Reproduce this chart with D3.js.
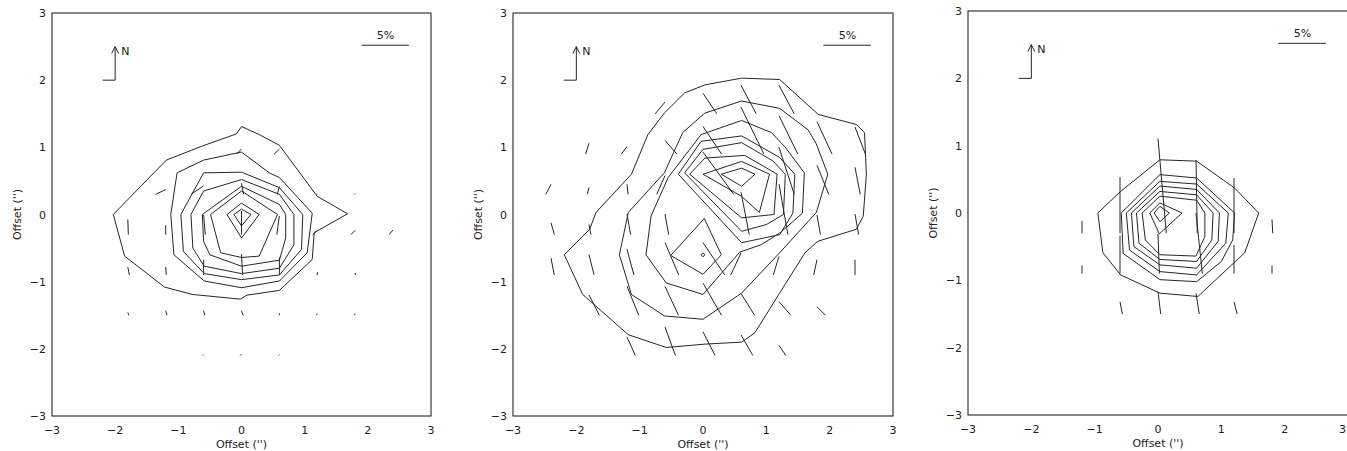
<!DOCTYPE html>
<html lang="en">
<head>
<meta charset="UTF-8">
<title>Polarization maps</title>
<style>
  body { margin: 0; background: #fff; }
  svg { display: block; }
  text { font-family: "DejaVu Sans", sans-serif; font-size: 11px; fill: #222; }
</style>
</head>
<body>
<svg id="chart" width="1347" height="451"></svg>
<script src="https://d3js.org/d3.v7.min.js"></script>
<script>
    /* global d3 */

    const xTicks = [-3, -2, -1, 0, 1, 2, 3];
    const yTicks = [-3, -2, -1, 0, 1, 2, 3];
    const axisTitle = "Offset ('')";
    const barLabel = "5%";
    const barPercent = 5;

    // contours, [x, y] in arcsec, each ring closed
    const contoursA = [
        [[0,1.31],[-0.08,1.2],[-0.62,1.02],[-1.19,0.81],[-2.03,0],[-1.85,-0.62],[-1.22,-1.08],[-0.78,-1.19],[-0.02,-1.26],[0.09,-1.2],[0.6,-1.13],[1.12,-0.67],[1.15,-0.27],[1.68,0.01],[1.2,0.27],[0.6,1.03],[0.28,1.19]],
        [[0,0.93],[-0.6,0.81],[-1.02,0.62],[-1.12,0],[-1.07,-0.6],[-0.59,-0.99],[0,-1.09],[0.6,-0.99],[1.04,-0.57],[1.12,0.02],[0.6,0.55],[0.44,0.62]],
        [[0,0.63],[-0.6,0.62],[-0.96,0],[-0.92,-0.55],[-0.59,-0.88],[0,-0.97],[0.6,-0.9],[0.95,-0.52],[0.97,0],[0.6,0.4]],
        [[0,0.52],[-0.6,0.35],[-0.8,0],[-0.77,-0.5],[-0.59,-0.77],[0,-0.88],[0.6,-0.8],[0.83,-0.45],[0.83,0],[0.6,0.3]],
        [[0,0.42],[-0.62,0],[-0.6,-0.4],[-0.5,-0.6],[0,-0.77],[0.6,-0.68],[0.7,-0.35],[0.7,0],[0.6,0.15]],
        [[0,0.35],[-0.49,0],[-0.33,-0.57],[0,-0.64],[0.28,-0.62],[0.57,0]],
        [[0,0.17],[0.28,0],[0,-0.35],[-0.23,0]],
        [[0,0.08],[0.15,0],[0,-0.17],[-0.12,0]]
    ];
    const contoursB = [
        [[-2.19,-0.6],[-1.79,-0.22],[-1.69,0.03],[-1.13,0.6],[-0.87,1.19],[-0.61,1.51],[-0.29,1.81],[0.03,1.93],[0.61,2.03],[1.21,2.01],[1.82,1.49],[2.42,1.34],[2.55,1.22],[2.58,0.6],[2.53,-0.03],[2.42,-0.22],[1.81,-0.4],[1.61,-0.57],[1.21,-1.17],[0.82,-1.76],[0.61,-1.9],[0.03,-1.93],[-0.58,-1.98],[-1.18,-1.79],[-1.9,-1.19]],
        [[-1.18,0.03],[-1.32,-0.6],[-1.13,-1.19],[-0.61,-1.51],[0,-1.56],[0.61,-1.17],[1.21,-0.57],[1.79,0.03],[1.97,0.6],[1.79,1.05],[1.66,1.26],[1.21,1.58],[0.61,1.69],[0.03,1.51],[-0.32,1.22],[-0.61,0.62]],
        [[-0.9,-0.6],[-0.58,-1.02],[0,-1.19],[0.58,-0.56],[0.92,-0.45],[1.22,-0.27],[1.57,0.02],[1.6,0.62],[1.3,1.0],[1.08,1.22],[0.61,1.4],[-0.03,1.19],[-0.55,0.55],[-0.82,-0.02]],
        [[-0.39,0.6],[-0.03,1.09],[0.61,1.17],[1.21,0.85],[1.45,0.6],[1.42,0.02],[1.21,-0.3],[0.61,-0.42]],
        [[-0.29,0.62],[0,0.97],[0.61,1.07],[1.1,0.8],[1.3,0.6],[1.27,0],[1.0,-0.15],[0.61,-0.25]],
        [[-0.21,0.6],[0.03,0.84],[0.66,0.88],[1.17,0.6],[1.12,0],[0.61,-0.05]],
        [[0,0.6],[0.61,0.79],[1.05,0.6],[0.89,0.03],[0.61,0.27]],
        [[0.29,0.6],[0.61,0.69],[0.82,0.6],[0.61,0.42]],
        [[0.02,-0.06],[0.29,-0.6],[0,-0.89],[-0.51,-0.61]],
        [[0,-0.57],[0.03,-0.6],[0,-0.63],[-0.03,-0.6]]
    ];
    const contoursC = [
        [[0.03,0.79],[0.61,0.77],[1.21,0.37],[1.59,0],[1.37,-0.59],[0.63,-1.24],[0.03,-1.19],[-0.59,-0.92],[-0.87,-0.59],[-0.95,0],[-0.59,0.32]],
        [[0.03,0.57],[0.61,0.52],[1.21,0],[1.18,-0.4],[1.0,-0.72],[0.61,-1.02],[0.03,-0.99],[-0.55,-0.6],[-0.58,0]],
        [[0.03,0.47],[0.61,0.43],[1.11,0],[1.07,-0.45],[0.61,-0.92],[0.03,-0.87],[-0.45,-0.55],[-0.5,0]],
        [[0.03,0.4],[0.61,0.35],[0.97,0],[0.95,-0.42],[0.61,-0.82],[0.03,-0.77],[-0.38,-0.5],[-0.42,0]],
        [[0.03,0.32],[0.61,0.27],[0.87,0],[0.85,-0.4],[0.61,-0.72],[0.03,-0.69],[-0.3,-0.45],[-0.34,0]],
        [[0.03,0.25],[0.61,0.19],[0.74,0],[0.74,-0.35],[0.6,-0.64],[0.03,-0.62],[-0.2,-0.4],[-0.25,0]],
        [[0.03,0.15],[0.38,0],[0.02,-0.31],[-0.13,0]],
        [[0.03,0.1],[0.18,0],[0.03,-0.13],[-0.06,0]]
    ];

    // vectors: [grid x, grid y, polarization %, angle deg (positive = top leans east/left)]
    const vectorsA = [
        [0,0.9,0.75,-45],[0.6,0.9,0.75,-47],
        [-1.2,0.3,1.18,-65],[-0.6,0.3,1.6,-56],[0,0.3,1.18,11],[0.6,0.3,0.85,-15],[1.2,0.3,0.15,-45],[1.8,0.3,0.15,-45],
        [-1.8,-0.3,1.6,2],[-1.2,-0.3,1.0,0],[-0.6,-0.3,2.1,5],[0,-0.3,2.5,0],[0.6,-0.3,2.0,-8],[1.2,-0.3,0.65,-50],[1.8,-0.3,0.65,-45],[2.4,-0.3,0.65,-40],
        [-1.8,-0.9,0.85,11],[-1.2,-0.9,0.85,4],[-0.6,-0.9,1.6,0],[0,-0.9,2.2,3],[0.6,-0.9,1.85,0],[1.2,-0.9,0.3,0],[1.8,-0.9,0.2,0],
        [-1.8,-1.5,0.3,20],[-1.2,-1.5,0.5,15],[-0.6,-1.5,0.5,15],[0,-1.5,0.5,20],[0.6,-1.5,0.2,0],[1.2,-1.5,0.2,-30],[1.8,-1.5,0.2,-30],
        [-0.6,-2.1,0.15,-45],[0,-2.1,0.2,-45],[0.6,-2.1,0.15,-45]
    ];
    const vectorsB = [
        [-0.6,1.5,1.6,-40],[0,1.5,2.6,34],[0.6,1.5,3.4,28],[1.2,1.5,3.4,28],
        [-1.8,0.9,1.2,-17],[-1.2,0.9,1.0,-36],[-0.6,0.9,1.9,41],[0,0.9,3.5,34],[0.6,0.9,5.5,26],[1.2,0.9,4.5,26],[1.8,0.9,3.75,25],[2.4,0.9,3.05,21],
        [-2.4,0.3,1.2,-27],[-1.8,0.3,0.75,-14],[-1.2,0.3,1.07,6],[-0.6,0.3,2.15,-24],[0,0.3,5.5,36],[1.2,0.3,5.2,18],[1.8,0.3,3.3,22],[2.4,0.3,2.9,11],
        [-2.4,-0.3,1.3,16],[-1.8,-0.3,1.1,10],[-1.2,-0.3,2.2,10],[-0.6,-0.3,2.2,10],[0.6,-0.3,4.55,11],[1.2,-0.3,5.4,10],[1.8,-0.3,2.1,10],[2.4,-0.3,2.2,10],
        [-2.4,-0.9,1.8,11],[-1.8,-0.9,2.2,14],[-1.2,-0.9,2.8,15],[-0.6,-0.9,3.7,23],[0,-0.9,4.1,34],[0.6,-0.9,2.55,-25],[1.2,-0.9,2.05,-17],[1.8,-0.9,1.65,-12],[2.4,-0.9,1.6,0],
        [-1.8,-1.5,2.4,27],[-1.2,-1.5,3.3,22],[-0.6,-1.5,3.35,25],[0,-1.5,3.9,30],[0.6,-1.5,2.7,32],[1.2,-1.5,1.9,41],[1.8,-1.5,1.26,45],
        [-1.2,-2.1,2.15,24],[-0.6,-2.1,3.2,20],[0,-2.1,2.8,27],[0.6,-2.1,2.5,30],[1.2,-2.1,1.3,34]
    ];
    const vectorsC = [
        [-0.6,-0.3,5.9,0],[0,-0.3,10.0,5],[0.6,-0.3,7.7,1],[1.2,-0.3,5.8,0],[-1.2,-0.3,1.3,0],[1.8,-0.3,1.45,3],
        [-1.2,-0.9,0.85,0],[-0.6,-0.9,4.0,0],[0,-0.9,4.2,2],[0.6,-0.9,6.4,6],[1.2,-0.9,3.0,0],[1.8,-0.9,0.85,0],
        [-0.6,-1.5,1.3,11],[0,-1.5,2.35,7],[0.6,-1.5,2.2,9],[1.2,-1.5,1.3,15]
    ];

    const panels = [
        {left: 52, top: 13, width: 379, height: 403, contours: contoursA, vectors: vectorsA},
        {left: 513, top: 13, width: 380, height: 403, contours: contoursB, vectors: vectorsB},
        {left: 968, top: 11, width: 380, height: 404, contours: contoursC, vectors: vectorsC}
    ];

    const svg = d3.select("#chart");
    const svgWidth = +svg.attr("width");
    const ink = "#262626";

    panels.forEach(drawPanel);

    function drawPanel(p) {
        const x = d3.scaleLinear().domain([-3, 3]).range([p.left, p.left + p.width]);
        const y = d3.scaleLinear().domain([-3, 3]).range([p.top + p.height, p.top]);
        const pLen = d3.scaleLinear().domain([0, barPercent]).range([0, x(2.65) - x(1.9)]);
        const g = svg.append("g");
        const fmt = d => d < 0 ? "\u2212" + Math.abs(d) : d;

        // frame
        g.append("rect")
            .attr("x", x(-3)).attr("y", y(3))
            .attr("width", x(3) - x(-3)).attr("height", y(-3) - y(3))
            .attr("fill", "none").attr("stroke", ink).attr("stroke-width", 1.1);

        // keep a label inside the window when the frame runs off the edge
        g.selectAll(".xt").data(xTicks).join("text")
            .attr("x", d => Math.min(x(d), svgWidth - 1))
            .attr("y", y(-3) + 18)
            .attr("text-anchor", d => x(d) + 4 > svgWidth ? "end" : "middle")
            .text(fmt);
        g.selectAll(".yt").data(yTicks).join("text")
            .attr("x", x(-3) - 6).attr("y", d => y(d) + 4)
            .attr("text-anchor", "end")
            .text(fmt);

        g.append("text")
            .attr("x", x(0)).attr("y", y(-3) + 32)
            .attr("text-anchor", "middle").text(axisTitle);
        g.append("text")
            .attr("transform", `translate(${x(-3) - 31},${y(0)}) rotate(-90)`)
            .attr("text-anchor", "middle").text(axisTitle);

        const line = d3.line().x(d => x(d[0])).y(d => y(d[1])).curve(d3.curveLinearClosed);
        g.selectAll(".ring").data(p.contours).join("path")
            .attr("d", line)
            .attr("fill", "none").attr("stroke", ink).attr("stroke-width", 1);

        // polarization vectors, top end on the grid column, bottom end on the grid row
        g.selectAll(".vec").data(p.vectors).join("line")
            .attr("x1", d => x(d[0]) + pLen(d[2]) * Math.sin(d[3] * Math.PI / 180))
            .attr("y1", d => y(d[1]))
            .attr("x2", d => x(d[0]))
            .attr("y2", d => y(d[1]) - Math.max(pLen(d[2]) * Math.cos(d[3] * Math.PI / 180), 1))
            .attr("stroke", ink).attr("stroke-width", 1);

        // north arrow
        const nx = x(-2), ny0 = y(2), ny1 = y(2.5);
        g.append("path")
            .attr("d", `M${x(-2.2)},${ny0}H${nx}V${ny1}M${nx - 3.5},${ny1 + 7}L${nx},${ny1}L${nx + 3.5},${ny1 + 7}`)
            .attr("fill", "none").attr("stroke", ink).attr("stroke-width", 1);
        g.append("text").attr("x", nx + 6).attr("y", ny1 + 8).text("N");

        // scale bar
        g.append("line")
            .attr("x1", x(1.9)).attr("x2", x(2.65))
            .attr("y1", y(2.52)).attr("y2", y(2.52))
            .attr("stroke", ink).attr("stroke-width", 1);
        g.append("text")
            .attr("x", x(2.28)).attr("y", y(2.52) - 6)
            .attr("text-anchor", "middle").text(barLabel);
    }
</script>
</body>
</html>
